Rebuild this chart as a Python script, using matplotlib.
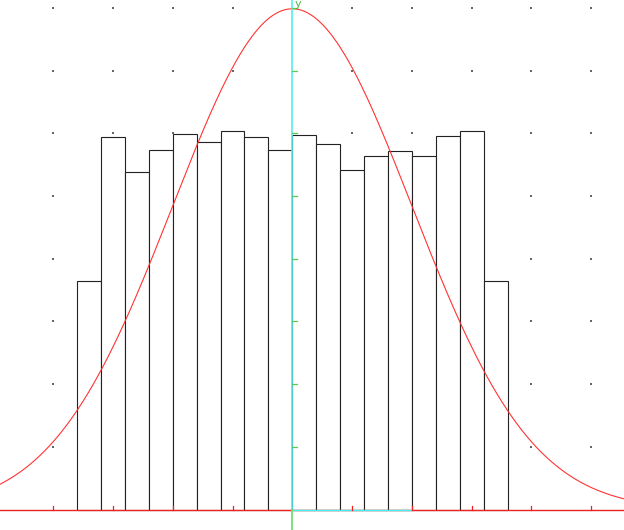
import numpy as np
import matplotlib
matplotlib.use("Agg")
import matplotlib.pyplot as plt

# Histogram data
bin_left = -3.6
bin_width = 0.4
heights = [3.64, 5.94, 5.38, 5.73, 5.99, 5.86, 6.03, 5.94, 5.73,
           5.98, 5.83, 5.42, 5.64, 5.72, 5.63, 5.95, 6.03, 3.65]
# Fitted normal curve parameters
mu = 0.0
sigma = 2.0

x_ticks = [-4, -3, -2, -1, 1, 2, 3, 4, 5]
y_ticks = [1, 2, 3, 4, 5, 6, 7, 8]

fig = plt.figure(figsize=(6.24, 5.30), dpi=100)
ax = fig.add_axes([0, 0, 1, 1])
ax.set_axis_off()

px = 59.78
py = 62.7
ax.set_xlim(-292.3 / px, (624 - 292.3) / px)
ax.set_ylim(-(530 - 509.5) / py, 509.5 / py)

# grid dots
gx, gy = np.meshgrid(x_ticks, y_ticks)
ax.scatter(gx.ravel(), gy.ravel(), s=0.9, c="#666666", marker="s", linewidths=0, zorder=1)

# bars
n = len(heights)
lefts = bin_left + bin_width * np.arange(n)
ax.bar(lefts, heights, width=bin_width, align="edge", color="white",
       edgecolor="#222222", linewidth=0.8, zorder=2)

# normal curve scaled to histogram area
area = sum(heights) * bin_width
xs = np.linspace(ax.get_xlim()[0], ax.get_xlim()[1], 800)
ys = area / (sigma * np.sqrt(2 * np.pi)) * np.exp(-(xs - mu) ** 2 / (2 * sigma ** 2))
ax.plot(xs, ys, color="#ff3333", linewidth=0.8, zorder=4)

# axes lines
ax.axhline(0, color="#ee2222", linewidth=1.0, zorder=5)
ax.plot([0, 2], [0, 0], color="#44eeee", linewidth=1.0, zorder=6)
ax.plot([0, 0], [0, ax.get_ylim()[1]], color="#55eeee", linewidth=1.2, zorder=6)
ax.plot([0, 0], [ax.get_ylim()[0], 0], color="#66dd66", linewidth=1.2, zorder=6)

# x ticks (red, upward)
tick_h = 4 / py
for t in x_ticks:
    ax.plot([t, t], [0, tick_h], color="#ee2222", linewidth=0.9, zorder=6)
# y ticks (green, to the right)
tick_w = 4.5 / px
for t in y_ticks:
    ax.plot([0, tick_w], [t, t], color="#55cc55", linewidth=0.9, zorder=7)

ax.text(2.5 / px, ax.get_ylim()[1] + 1 / py, "y", color="#44bb44", fontsize=8,
        ha="left", va="top", zorder=8)

fig.savefig("out.png", dpi=100)
